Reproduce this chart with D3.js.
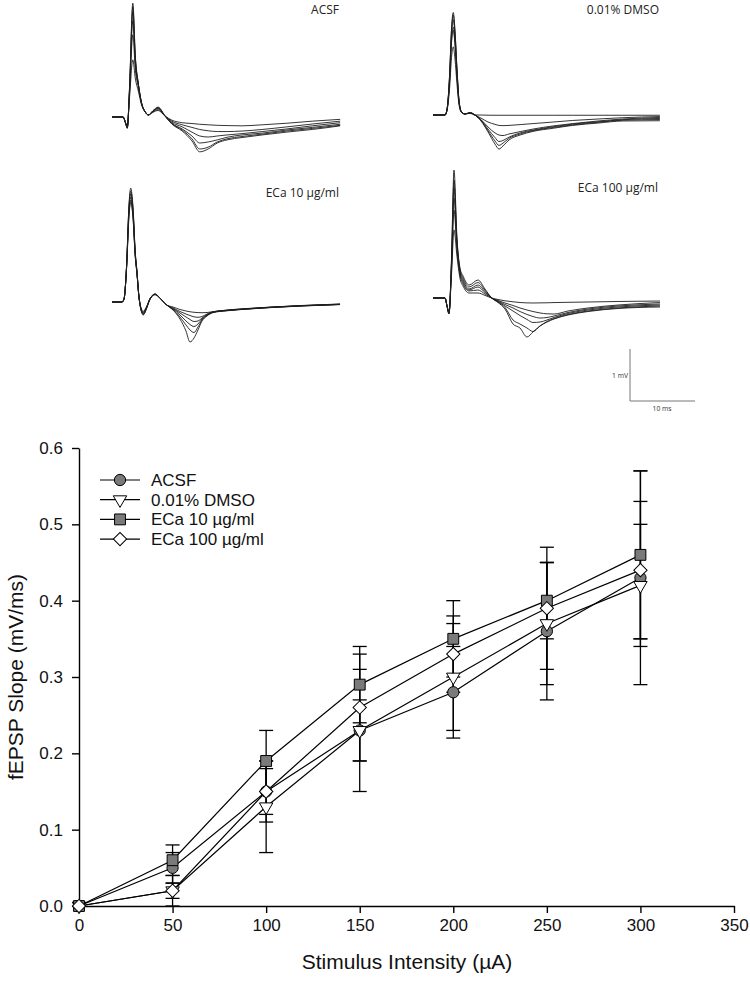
<!doctype html>
<html>
<head>
<meta charset="utf-8">
<script src="https://cdn.jsdelivr.net/npm/d3@7"></script>
<style>
  body { margin: 0; background: #fff; }
  svg { display: block; font-family: "Liberation Sans", Arial, sans-serif; }
  .trace { fill: none; stroke: #1e1e1e; stroke-width: 0.9; }
  .panel-label { font-family: "Open Sans", "Noto Sans", sans-serif; font-size: 12px; fill: #222; }
  .scale-bar { stroke: #777; stroke-width: 1; fill: none; }
  .scale-label { font-family: "Open Sans", "Noto Sans", sans-serif; font-size: 6.8px; fill: #333; }
  .axis path, .axis line { stroke: #000; stroke-width: 1.4; }
  .axis text { font-size: 17px; fill: #111; }
  .series-line { fill: none; stroke: #000; stroke-width: 1.2; }
  .err { stroke: #000; stroke-width: 1.3; }
  .marker { stroke: #000; stroke-width: 1; }
  .axis-title { font-size: 21px; fill: #111; }
  .legend text { font-size: 17px; fill: #111; }
</style>
</head>
<body>
<svg id="chart" width="750" height="984"></svg>
<script>
  // ---- field potential traces (time in ms, voltage in mV) ----
  var acsfTime = [0, 1.7, 2.1, 2.35, 2.7, 3.2, 3.6, 4.05, 4.55, 5.1, 5.6, 6.3, 7.1,
    8.15, 9.2, 10.8, 12.3, 13.5, 14.8, 16.2, 17.7, 20, 23.1, 26.9, 30.8, 35.1];
  var acsfTraces = [
    [0, 0, -0.11, -0.18, 0.38, 1.10, 0.73, 0.50, 0.23, 0.10, 0.04, 0.09, 0.125,
      0.02, -0.06, -0.11, -0.125, -0.14, -0.15, -0.16, -0.165, -0.17, -0.15, -0.12, -0.08, -0.045],
    [0, 0, -0.12, -0.19, 0.46, 1.58, 0.90, 0.58, 0.25, 0.10, 0.04, 0.10, 0.14,
      0.02, -0.08, -0.15, -0.20, -0.24, -0.265, -0.28, -0.28, -0.27, -0.24, -0.19, -0.135, -0.08],
    [0, 0, -0.12, -0.20, 0.50, 1.85, 1.00, 0.62, 0.26, 0.10, 0.04, 0.11, 0.16,
      0.02, -0.10, -0.19, -0.29, -0.365, -0.385, -0.365, -0.345, -0.32, -0.28, -0.23, -0.17, -0.11],
    [0, 0, -0.12, -0.21, 0.54, 2.02, 1.08, 0.63, 0.27, 0.10, 0.04, 0.11, 0.17,
      0.02, -0.12, -0.23, -0.365, -0.50, -0.48, -0.44, -0.39, -0.345, -0.31, -0.25, -0.20, -0.14],
    [0, 0, -0.12, -0.21, 0.56, 2.12, 1.12, 0.63, 0.27, 0.10, 0.04, 0.12, 0.18,
      0.02, -0.125, -0.25, -0.42, -0.615, -0.58, -0.48, -0.42, -0.375, -0.33, -0.27, -0.22, -0.16],
    [0, 0, -0.12, -0.22, 0.58, 2.19, 1.15, 0.65, 0.27, 0.10, 0.04, 0.12, 0.19,
      0.02, -0.135, -0.27, -0.46, -0.67, -0.615, -0.50, -0.44, -0.395, -0.345, -0.29, -0.24, -0.17]
  ];

  var dmsoTime = [0, 1.85, 2.15, 2.55, 2.85, 3.12, 3.38, 3.7, 4.0, 4.38, 4.92, 5.7,
    6.46, 7.38, 8.46, 9.54, 10.15, 10.77, 11.7, 13.4, 15.4, 18.5, 21.5, 25.4, 29.2, 34.9];
  var dmsoTraces = [
    [0, 0, 0.08, 0.51, 1.11, 1.31, 1.08, 0.58, 0.20, 0.05, 0.02, 0.03,
      0, 0, -0.004, -0.005, -0.005, -0.005, -0.005, -0.005, -0.005, -0.005, -0.005, -0.005, -0.005, -0.005],
    [0, 0, 0.10, 0.64, 1.39, 1.63, 1.35, 0.72, 0.24, 0.06, 0.02, 0.04,
      0, -0.06, -0.135, -0.18, -0.20, -0.205, -0.20, -0.185, -0.165, -0.135, -0.105, -0.077, -0.052, -0.03],
    [0, 0, 0.10, 0.66, 1.44, 1.69, 1.40, 0.75, 0.25, 0.06, 0.02, 0.04,
      0, -0.087, -0.23, -0.345, -0.385, -0.395, -0.365, -0.32, -0.27, -0.21, -0.165, -0.115, -0.077, -0.048],
    [0, 0, 0.10, 0.72, 1.55, 1.83, 1.52, 0.81, 0.27, 0.06, 0.02, 0.04,
      0, -0.096, -0.27, -0.435, -0.51, -0.49, -0.425, -0.345, -0.29, -0.225, -0.175, -0.13, -0.09, -0.067],
    [0, 0, 0.10, 0.75, 1.63, 1.92, 1.60, 0.85, 0.28, 0.06, 0.02, 0.045,
      0, -0.105, -0.30, -0.50, -0.585, -0.54, -0.45, -0.365, -0.30, -0.24, -0.19, -0.14, -0.10, -0.087],
    [0, 0, 0.10, 0.77, 1.67, 1.97, 1.63, 0.87, 0.29, 0.06, 0.02, 0.045,
      0, -0.115, -0.325, -0.56, -0.655, -0.595, -0.48, -0.385, -0.315, -0.255, -0.20, -0.155, -0.115, -0.11]
  ];

  var eca10Time = [0, 1.54, 1.85, 2.23, 2.62, 2.88, 3.23, 3.58, 3.85, 4.09, 4.46, 4.82, 5.23, 5.85, 6.62, 7.38,
    8.42, 9.38, 10.46, 11.38, 12, 12.62, 13.23, 13.85, 14.62, 15.54, 17.69, 20.77, 24.62, 29.23, 35.08];
  var eca10Traces = [
    [0, 0, 0.058, 0.62, 1.66, 1.92, 1.61, 0.86, 0.53, 0.17, -0.11, -0.18, -0.11, 0.06, 0.14, 0.07,
      -0.058, -0.096, -0.144, -0.173, -0.188, -0.198, -0.204, -0.206, -0.202, -0.187, -0.154, -0.125, -0.096, -0.067, -0.038],
    [0, 0, 0.058, 0.63, 1.70, 1.96, 1.65, 0.88, 0.54, 0.17, -0.12, -0.20, -0.12, 0.06, 0.145, 0.075,
      -0.058, -0.115, -0.183, -0.231, -0.26, -0.285, -0.294, -0.279, -0.231, -0.188, -0.158, -0.129, -0.098, -0.069, -0.042],
    [0, 0, 0.058, 0.64, 1.75, 2.02, 1.70, 0.90, 0.55, 0.17, -0.13, -0.215, -0.13, 0.06, 0.15, 0.075,
      -0.058, -0.125, -0.212, -0.288, -0.337, -0.375, -0.365, -0.308, -0.24, -0.192, -0.162, -0.131, -0.10, -0.071, -0.044],
    [0, 0, 0.058, 0.65, 1.80, 2.08, 1.75, 0.92, 0.56, 0.17, -0.14, -0.23, -0.14, 0.06, 0.15, 0.077,
      -0.058, -0.135, -0.25, -0.365, -0.433, -0.471, -0.423, -0.327, -0.25, -0.196, -0.163, -0.133, -0.102, -0.073, -0.046],
    [0, 0, 0.058, 0.66, 1.85, 2.13, 1.79, 0.94, 0.57, 0.17, -0.15, -0.24, -0.15, 0.058, 0.154, 0.077,
      -0.058, -0.144, -0.288, -0.442, -0.538, -0.587, -0.481, -0.346, -0.26, -0.20, -0.165, -0.135, -0.104, -0.075, -0.048],
    [0, 0, 0.058, 0.673, 1.885, 2.19, 1.827, 0.962, 0.577, 0.173, -0.154, -0.25, -0.154, 0.058, 0.154, 0.077,
      -0.058, -0.154, -0.327, -0.558, -0.769, -0.692, -0.538, -0.365, -0.269, -0.204, -0.169, -0.137, -0.106, -0.077, -0.05]
  ];

  var eca100Time = [0, 1.85, 2.15, 2.46, 2.85, 3.23, 3.69, 4.15, 4.62, 5.54, 6.92, 8.0,
    9.03, 10, 11.08, 12.31, 13.38, 14.46, 15.38, 16.46, 17.54, 18.62, 20.77, 23.85, 28.46, 34.92];
  var eca100Traces = [
    [0, 0, -0.14, -0.27, 0.45, 1.31, 0.80, 0.38, 0.23, 0.096, 0.096, 0.05,
      0, -0.029, -0.054, -0.073, -0.087, -0.094, -0.096, -0.094, -0.092, -0.088, -0.083, -0.077, -0.067, -0.058],
    [0, 0, -0.145, -0.28, 0.55, 1.69, 0.92, 0.44, 0.27, 0.135, 0.154, 0.077,
      0, -0.048, -0.096, -0.144, -0.192, -0.231, -0.26, -0.288, -0.304, -0.308, -0.25, -0.192, -0.135, -0.087],
    [0, 0, -0.15, -0.29, 0.62, 1.92, 1.00, 0.48, 0.308, 0.154, 0.212, 0.105,
      0, -0.058, -0.125, -0.192, -0.26, -0.317, -0.356, -0.385, -0.375, -0.346, -0.279, -0.212, -0.154, -0.115],
    [0, 0, -0.15, -0.30, 0.68, 2.12, 1.05, 0.52, 0.346, 0.173, 0.25, 0.125,
      0, -0.067, -0.154, -0.25, -0.337, -0.413, -0.471, -0.462, -0.423, -0.375, -0.298, -0.231, -0.173, -0.135],
    [0, 0, -0.154, -0.30, 0.72, 2.27, 1.10, 0.55, 0.385, 0.212, 0.298, 0.15,
      0, -0.077, -0.183, -0.423, -0.50, -0.577, -0.644, -0.538, -0.452, -0.394, -0.317, -0.25, -0.192, -0.154],
    [0, 0, -0.154, -0.308, 0.77, 2.46, 1.154, 0.577, 0.423, 0.25, 0.346, 0.173,
      0, -0.087, -0.212, -0.50, -0.577, -0.75, -0.654, -0.538, -0.462, -0.404, -0.327, -0.26, -0.202, -0.173]
  ];

  var panelLabels = ["ACSF", "0.01% DMSO", "ECa 10 \u00b5g/ml", "ECa 100 \u00b5g/ml"];

  // ---- input/output data ----
  var intensity = [0, 50, 100, 150, 200, 250, 300];
  var seriesNames = ["ACSF", "0.01% DMSO", "ECa 10 \u00b5g/ml", "ECa 100 \u00b5g/ml"];
  var acsfMean = [0, 0.05, 0.15, 0.23, 0.28, 0.36, 0.43];
  var acsfSem = [0, 0.02, 0.04, 0.08, 0.06, 0.09, 0.14];
  var dmsoMean = [0, 0.02, 0.13, 0.23, 0.30, 0.37, 0.42];
  var dmsoSem = [0, 0.01, 0.06, 0.04, 0.07, 0.08, 0.08];
  var eca10Mean = [0, 0.06, 0.19, 0.29, 0.35, 0.40, 0.46];
  var eca10Sem = [0, 0.02, 0.04, 0.05, 0.05, 0.05, 0.11];
  var eca100Mean = [0, 0.02, 0.15, 0.26, 0.33, 0.39, 0.44];
  var eca100Sem = [0, 0.02, 0.03, 0.07, 0.05, 0.08, 0.09];
  var xTicks = [0, 50, 100, 150, 200, 250, 300, 350];
  var yTicks = [0, 0.1, 0.2, 0.3, 0.4, 0.5, 0.6];

  var svg = d3.select("#chart");

  // ---------- trace panels ----------
  var panels = [
    { time: acsfTime, traces: acsfTraces, origin: [112, 117], labelPos: [339, 14] },
    { time: dmsoTime, traces: dmsoTraces, origin: [433, 115], labelPos: [659, 14] },
    { time: eca10Time, traces: eca10Traces, origin: [112, 302], labelPos: [339, 197] },
    { time: eca100Time, traces: eca100Traces, origin: [433, 298], labelPos: [658, 192] }
  ];

  // 10 ms = 65 px, 1 mV = 52 px
  var tx = d3.scaleLinear().domain([0, 10]).range([0, 65]);
  var ty = d3.scaleLinear().domain([0, 1]).range([0, -52]);

  panels.forEach(function (p, i) {
    var g = svg.append("g").attr("transform", "translate(" + p.origin[0] + "," + p.origin[1] + ")");
    var line = d3.line()
      .x(function (d, j) { return tx(p.time[j]); })
      .y(function (d) { return ty(d); })
      .curve(d3.curveMonotoneX);
    g.selectAll("path.trace")
      .data(p.traces)
      .enter().append("path")
      .attr("class", "trace")
      .attr("d", line);

    svg.append("text")
      .attr("class", "panel-label")
      .attr("x", p.labelPos[0])
      .attr("y", p.labelPos[1])
      .attr("text-anchor", "end")
      .text(panelLabels[i]);
  });

  // scale bar
  var bar = svg.append("g").attr("transform", "translate(630,401)");
  bar.append("path")
    .attr("class", "scale-bar")
    .attr("d", "M0," + ty(1) + "V0H" + tx(10));
  bar.append("text").attr("class", "scale-label")
    .attr("x", -2).attr("y", ty(0.5) + 3).attr("text-anchor", "end").text("1 mV");
  bar.append("text").attr("class", "scale-label")
    .attr("x", tx(5) - 10).attr("y", 10).text("10 ms");

  // ---------- I/O plot ----------
  var x = d3.scaleLinear().domain([0, 350]).range([79, 734]);
  var y = d3.scaleLinear().domain([0, 0.6]).range([906, 448]);

  svg.append("g")
    .attr("class", "axis")
    .attr("transform", "translate(0,906)")
    .call(d3.axisBottom(x).tickValues(xTicks).tickSize(7).tickSizeOuter(0).tickPadding(6)
      .tickFormat(d3.format("d")));

  svg.append("g")
    .attr("class", "axis")
    .attr("transform", "translate(79,0)")
    .call(d3.axisLeft(y).tickValues(yTicks).tickSize(7).tickSizeOuter(0).tickPadding(9)
      .tickFormat(d3.format(".1f")));

  svg.append("text")
    .attr("class", "axis-title")
    .attr("x", 407).attr("y", 969)
    .attr("text-anchor", "middle")
    .text("Stimulus Intensity (\u00b5A)");

  svg.append("text")
    .attr("class", "axis-title")
    .attr("transform", "translate(23,677) rotate(-90)")
    .attr("text-anchor", "middle")
    .text("fEPSP Slope (mV/ms)");

  var series = [
    { name: seriesNames[0], mean: acsfMean, sem: acsfSem, shape: "circle", fill: "#7a7a7a" },
    { name: seriesNames[1], mean: dmsoMean, sem: dmsoSem, shape: "triangle", fill: "#fff" },
    { name: seriesNames[2], mean: eca10Mean, sem: eca10Sem, shape: "square", fill: "#7a7a7a" },
    { name: seriesNames[3], mean: eca100Mean, sem: eca100Sem, shape: "diamond", fill: "#fff" }
  ];

  function symbolPath(shape) {
    if (shape === "circle") return d3.symbol().type(d3.symbolCircle).size(100)();
    if (shape === "triangle") return d3.symbol().type(d3.symbolTriangle).size(78)();
    return d3.symbol().type(d3.symbolSquare).size(shape === "square" ? 118 : 88)();
  }
  function symbolTransform(shape, cx, cy) {
    var t = "translate(" + cx + "," + cy + ")";
    if (shape === "triangle") t += " rotate(180)";
    if (shape === "diamond") t += " rotate(45)";
    return t;
  }

  var plotLine = d3.line()
    .x(function (d, i) { return x(intensity[i]); })
    .y(function (d) { return y(d); });

  series.forEach(function (s) {
    svg.append("path").attr("class", "series-line").attr("d", plotLine(s.mean));
  });

  var capHalf = 7;
  series.forEach(function (s) {
    var eg = svg.append("g");
    intensity.forEach(function (xi, i) {
      if (!s.sem[i]) return;
      var cx = x(xi), y0 = y(s.mean[i] - s.sem[i]), y1 = y(s.mean[i] + s.sem[i]);
      eg.append("line").attr("class", "err").attr("x1", cx).attr("x2", cx).attr("y1", y0).attr("y2", y1);
      eg.append("line").attr("class", "err").attr("x1", cx - capHalf).attr("x2", cx + capHalf).attr("y1", y0).attr("y2", y0);
      eg.append("line").attr("class", "err").attr("x1", cx - capHalf).attr("x2", cx + capHalf).attr("y1", y1).attr("y2", y1);
    });
  });

  series.forEach(function (s) {
    svg.append("g").selectAll("path")
      .data(s.mean)
      .enter().append("path")
      .attr("class", "marker")
      .attr("d", symbolPath(s.shape))
      .attr("fill", s.fill)
      .attr("transform", function (d, i) { return symbolTransform(s.shape, x(intensity[i]), y(d)); });
  });

  // legend
  var legend = svg.append("g").attr("class", "legend").attr("transform", "translate(100,480)");
  series.forEach(function (s, i) {
    var row = legend.append("g").attr("transform", "translate(0," + (i * 19.7) + ")");
    row.append("line").attr("x1", 0).attr("x2", 40).attr("stroke", "#000").attr("stroke-width", 1.2);
    row.append("path").attr("class", "marker")
      .attr("d", symbolPath(s.shape)).attr("fill", s.fill)
      .attr("transform", symbolTransform(s.shape, 20, 0));
    row.append("text").attr("x", 51).attr("y", 6).text(s.name);
  });
</script>
</body>
</html>
